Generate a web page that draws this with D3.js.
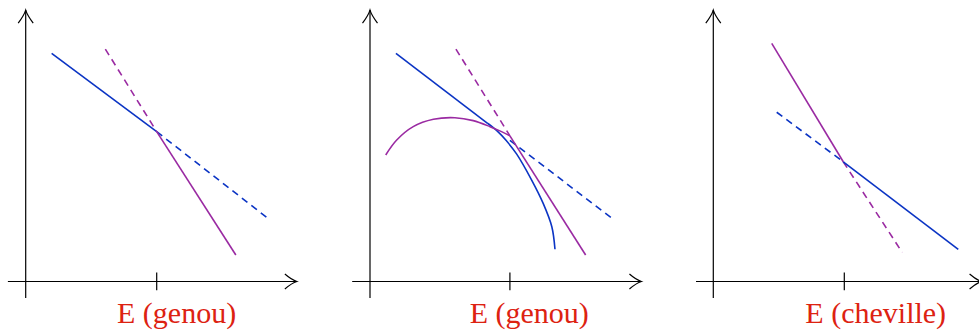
<!DOCTYPE html>
<html>
<head>
<meta charset="utf-8">
<script src="https://cdn.jsdelivr.net/npm/d3@7"></script>
<style>
  body { margin: 0; background: #fff; }
  svg { display: block; }
</style>
</head>
<body>
<div id="chart"></div>
<script>
// three small sketches: stiffness vs E, knee / knee / ankle
const W = 979, H = 331;

const BLUE = "#0b34c4";
const PURPLE = "#9a2aa2";
const RED = "#dd2211";

// tick labels under each x-axis
const labels = ["E (genou)", "E (genou)", "E (cheville)"];
// where the single tick sits on each x-axis (data units)
const tickValues = [5.0, 5.34, 5.0];

// panel 1
const p1BlueSolid = [[0.99, 8.71], [5.0, 5.72]];
const p1BlueDash = [[5.0, 5.72], [9.30, 2.37]];
const p1PurpleDash = [[3.04, 8.87], [5.0, 5.72]];
const p1PurpleSolid = [[5.0, 5.72], [8.02, 1.01]];

// panel 2
const p2BlueSolid = [[0.99, 8.71], [4.50, 6.03]];
const p2BlueCurve = [[4.50, 6.03], [4.85, 5.75], [5.20, 5.38], [5.60, 4.86], [6.17, 3.87], [6.61, 2.98], [6.94, 2.09], [7.06, 1.23]];
const p2BlueDash = [[5.34, 5.39], [9.29, 2.37]];
const p2PurpleArc = [[0.60, 4.83], [1.02, 5.40], [1.65, 5.91], [2.42, 6.19], [3.24, 6.25], [3.94, 6.14], [4.58, 5.91], [5.02, 5.72], [5.34, 5.56]];
const p2PurpleSolid = [[5.34, 5.56], [8.23, 1.01]];
const p2PurpleDash = [[3.28, 8.87], [5.34, 5.56]];

// panel 3
const p3PurpleSolid = [[2.23, 9.09], [4.96, 4.57]];
const p3PurpleDash = [[4.96, 4.57], [7.21, 1.11]];
const p3BlueDash = [[2.42, 6.46], [4.96, 4.57]];
const p3BlueSolid = [[4.96, 4.57], [9.35, 1.23]];

// layout per panel (pixel origin of the y-axis, axis extents in data units)
const panels = [
  { ox: 25.7, xMin: -0.68, xMax: 10.35, labelX: 5.76,
    series: [
      { d: p1BlueSolid, c: BLUE }, { d: p1BlueDash, c: BLUE, dash: true },
      { d: p1PurpleDash, c: PURPLE, dash: true }, { d: p1PurpleSolid, c: PURPLE }
    ] },
  { ox: 370, xMin: -0.68, xMax: 10.36, labelX: 6.08,
    series: [
      { d: p2BlueSolid, c: BLUE }, { d: p2BlueCurve, c: BLUE, curve: true },
      { d: p2BlueDash, c: BLUE, dash: true },
      { d: p2PurpleArc, c: PURPLE, curve: true }, { d: p2PurpleSolid, c: PURPLE },
      { d: p2PurpleDash, c: PURPLE, dash: true }
    ] },
  { ox: 713.3, xMin: -0.66, xMax: 10.24, labelX: 6.20,
    series: [
      { d: p3PurpleSolid, c: PURPLE }, { d: p3PurpleDash, c: PURPLE, dash: true },
      { d: p3BlueDash, c: BLUE, dash: true }, { d: p3BlueSolid, c: BLUE }
    ] }
];

const UNIT = 26.2;
const y = d3.scaleLinear().domain([0, 10]).range([281.5, 281.5 - 10 * UNIT]);

const svg = d3.select("#chart").append("svg")
  .attr("width", W).attr("height", H);

// open tikz-style arrow heads
function arrowRight(g, tx, ty) {
  g.append("path")
    .attr("d", `M${tx - 12},${ty - 7.5} Q${tx - 5},${ty - 1.5} ${tx},${ty} Q${tx - 5},${ty + 1.5} ${tx - 12},${ty + 7.5}`)
    .attr("fill", "none").attr("stroke", "#000").attr("stroke-width", 1.2);
}
function arrowUp(g, tx, ty) {
  g.append("path")
    .attr("d", `M${tx - 7.5},${ty + 13} Q${tx - 1.5},${ty + 5} ${tx},${ty} Q${tx + 1.5},${ty + 5} ${tx + 7.5},${ty + 13}`)
    .attr("fill", "none").attr("stroke", "#000").attr("stroke-width", 1.2);
}

panels.forEach((p, i) => {
  const x = d3.scaleLinear().domain([0, 10]).range([p.ox, p.ox + 10 * UNIT]);
  const g = svg.append("g");

  // axes
  g.append("line")
    .attr("x1", x(p.xMin)).attr("x2", x(p.xMax))
    .attr("y1", y(0)).attr("y2", y(0))
    .attr("stroke", "#000").attr("stroke-width", 1.2);
  arrowRight(g, x(p.xMax), y(0));

  g.append("line")
    .attr("x1", x(0)).attr("x2", x(0))
    .attr("y1", y(-0.63)).attr("y2", y(10.36))
    .attr("stroke", "#000").attr("stroke-width", 1.2);
  arrowUp(g, x(0), y(10.36));

  // the one tick, crossing the axis
  g.append("line")
    .attr("x1", x(tickValues[i])).attr("x2", x(tickValues[i]))
    .attr("y1", y(-0.33)).attr("y2", y(0.34))
    .attr("stroke", "#000").attr("stroke-width", 1.2);

  // lines and curves
  p.series.forEach(s => {
    const line = d3.line()
      .x(d => x(d[0])).y(d => y(d[1]))
      .curve(s.curve ? d3.curveCatmullRom.alpha(0.5) : d3.curveLinear);
    g.append("path")
      .attr("d", line(s.d))
      .attr("fill", "none")
      .attr("stroke", s.c)
      .attr("stroke-width", 1.6)
      .attr("stroke-dasharray", s.dash ? "7,5" : null);
  });

  g.append("text")
    .attr("x", x(p.labelX))
    .attr("y", y(-1.6))
    .attr("text-anchor", "middle")
    .style("font-family", "'Liberation Serif', 'Times New Roman', serif")
    .style("font-size", "30px")
    .style("fill", RED)
    .text(labels[i]);
});
</script>
</body>
</html>
